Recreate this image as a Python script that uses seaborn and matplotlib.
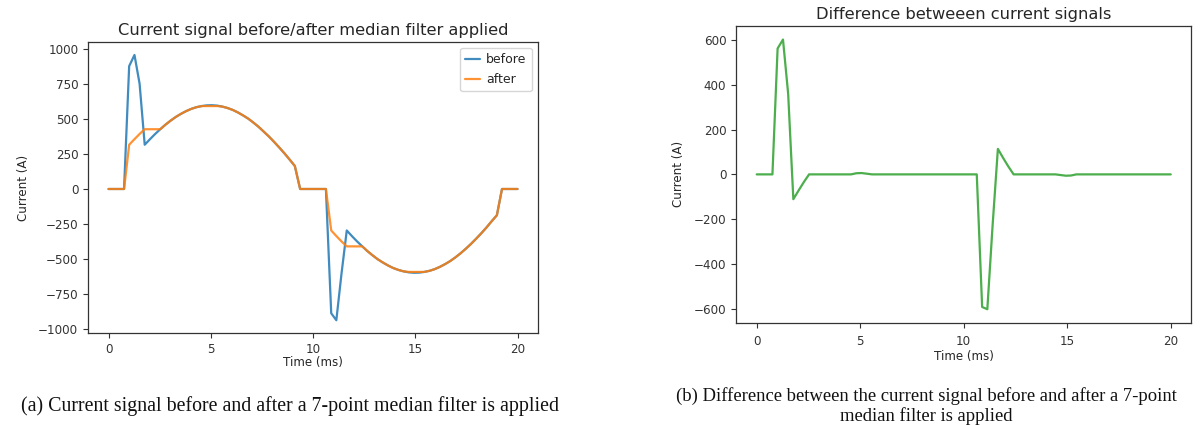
import numpy as np
import pandas as pd
import matplotlib
matplotlib.use('Agg')
import matplotlib.pyplot as plt
import seaborn as sns

# time samples (ms), 80 points over one 20 ms period
TIME_MS = [0.00, 0.25, 0.51, 0.76, 1.01, 1.27, 1.52, 1.77, 2.03, 2.28,
           2.53, 2.78, 3.04, 3.29, 3.54, 3.80, 4.05, 4.30, 4.56, 4.81,
           5.06, 5.32, 5.57, 5.82, 6.08, 6.33, 6.58, 6.84, 7.09, 7.34,
           7.59, 7.85, 8.10, 8.35, 8.61, 8.86, 9.11, 9.37, 9.62, 9.87,
           10.13, 10.38, 10.63, 10.89, 11.14, 11.39, 11.65, 11.90, 12.15, 12.41,
           12.66, 12.91, 13.16, 13.42, 13.67, 13.92, 14.18, 14.43, 14.68, 14.94,
           15.19, 15.44, 15.70, 15.95, 16.20, 16.46, 16.71, 16.96, 17.22, 17.47,
           17.72, 17.97, 18.23, 18.48, 18.73, 18.99, 19.24, 19.49, 19.75, 20.00]

BEFORE = [0, 0, 0, 0, 880, 960, 754, 317, 357, 394,
          428, 460, 490, 516, 538, 558, 574, 586, 594, 599,
          600, 597, 590, 580, 566, 548, 527, 503, 475, 445,
          411, 375, 337, 297, 254, 210, 165, 0, 0, 0,
          0, 0, 0, -890, -940, -610, -297, -337, -375, -411,
          -445, -475, -503, -527, -548, -566, -580, -590, -597, -600,
          -599, -594, -586, -574, -558, -538, -516, -490, -460, -428,
          -394, -357, -317, -276, -232, -188, 0, 0, 0, 0]

AFTER = [0, 0, 0, 0, 317, 357, 394, 428, 428, 428,
         428, 460, 490, 516, 538, 558, 574, 586, 594, 594,
         594, 594, 590, 580, 566, 548, 527, 503, 475, 445,
         411, 375, 337, 297, 254, 210, 165, 0, 0, 0,
         0, 0, 0, -297, -337, -375, -411, -411, -411, -411,
         -445, -475, -503, -527, -548, -566, -580, -590, -594, -594,
         -594, -594, -586, -574, -558, -538, -516, -490, -460, -428,
         -394, -357, -317, -276, -232, -188, 0, 0, 0, 0]

DIFFERENCE = [0, 0, 0, 0, 563, 603, 360, -111, -71, -34,
              0, 0, 0, 0, 0, 0, 0, 0, 0, 5,
              6, 3, 0, 0, 0, 0, 0, 0, 0, 0,
              0, 0, 0, 0, 0, 0, 0, 0, 0, 0,
              0, 0, 0, -593, -603, -235, 114, 74, 36, 0,
              0, 0, 0, 0, 0, 0, 0, 0, -3, -6,
              -5, 0, 0, 0, 0, 0, 0, 0, 0, 0,
              0, 0, 0, 0, 0, 0, 0, 0, 0, 0]

CAPTION_A = '(a) Current signal before and after a 7-point median filter is applied'
CAPTION_B = ('(b) Difference between the current signal before and after a 7-point\n'
             'median filter is applied')

sns.set_style('ticks')
plt.rcParams.update({
    'font.family': ['DejaVu Sans'],
    'font.size': 8.6,
    'axes.titlesize': 11.7,
    'axes.labelsize': 8.6,
    'xtick.labelsize': 8.6,
    'ytick.labelsize': 8.6,
    'legend.fontsize': 9,
    'axes.edgecolor': '#333333',
    'xtick.color': '#333333',
    'ytick.color': '#333333',
    'text.color': '#262626',
    'axes.labelcolor': '#262626',
})

df = pd.DataFrame({'time': TIME_MS, 'before': BEFORE, 'after': AFTER,
                   'diff': DIFFERENCE})

fig = plt.figure(figsize=(12.03, 4.25), dpi=100)

ax1 = fig.add_axes([0.0732, 0.2153, 0.3740, 0.6866])
sns.lineplot(data=df, x='time', y='before', ax=ax1, color='#1f77b4',
             label='before', linewidth=1.6, alpha=0.85)
sns.lineplot(data=df, x='time', y='after', ax=ax1, color='#ff7f0e',
             label='after', linewidth=1.6, alpha=0.85)
ax1.set_title('Current signal before/after median filter applied', pad=5)
ax1.set_xlabel('Time (ms)', labelpad=0)
ax1.set_ylabel('Current (A)', labelpad=6)
ax1.set_xticks([0, 5, 10, 15, 20])
ax1.set_yticks(np.arange(-1000, 1001, 250))
ax1.legend(loc='upper right', frameon=True, handlelength=1.2,
           handletextpad=0.5, labelspacing=0.6)

ax2 = fig.add_axes([0.6118, 0.2407, 0.3786, 0.6980])
sns.lineplot(data=df, x='time', y='diff', ax=ax2, color='#2ca02c',
             linewidth=1.6, alpha=0.85)
ax2.set_title('Difference betweeen current signals', pad=5)
ax2.set_xlabel('Time (ms)', labelpad=2)
ax2.set_ylabel('Current (A)', labelpad=6)
ax2.set_xticks([0, 5, 10, 15, 20])
ax2.set_yticks(np.arange(-600, 601, 200))
ax2.tick_params(axis='x', pad=5)

for ax in (ax1, ax2):
    for sp in ax.spines.values():
        sp.set_visible(True)
        sp.set_linewidth(0.9)

fig.text(0.241, 1 - 406 / 425, CAPTION_A, ha='center', va='center',
         family='Liberation Serif', fontsize=14.3, color='#111111')
fig.text(0.770, 1 - 406 / 425, CAPTION_B, ha='center', va='center',
         family='Liberation Serif', fontsize=13.4, color='#111111',
         linespacing=1.1)

fig.savefig('out.png', dpi=100)
